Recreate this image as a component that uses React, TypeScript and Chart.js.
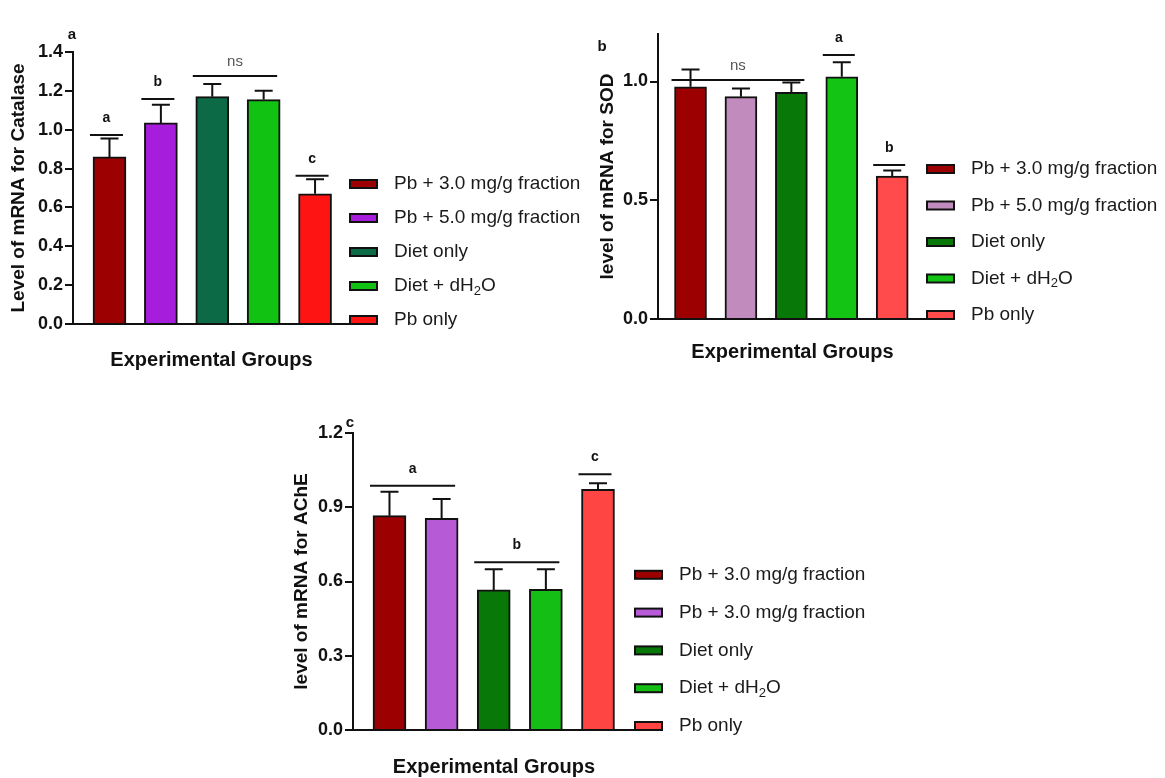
import React, { useEffect, useRef } from 'react';
import { Chart, registerables } from 'chart.js';
Chart.register(...registerables);

const FONT = "'Liberation Sans', Arial, Helvetica, sans-serif";

// ---------- data ----------
const groupsCatalase = ['Pb + 3.0 mg/g fraction', 'Pb + 5.0 mg/g fraction', 'Diet only', 'Diet + dH₂O', 'Pb only'];
const groupsSOD = ['Pb + 3.0 mg/g fraction', 'Pb + 5.0 mg/g fraction', 'Diet only', 'Diet + dH₂O', 'Pb only'];
const groupsAChE = ['Pb + 3.0 mg/g fraction', 'Pb + 3.0 mg/g fraction', 'Diet only', 'Diet + dH₂O', 'Pb only'];

const colorsCatalase = ['#9c0000', '#a61ddc', '#0c6a46', '#12c212', '#ff1414'];
const colorsSOD = ['#9c0000', '#c28bbd', '#087808', '#14c414', '#ff4b4b'];
const colorsAChE = ['#9c0000', '#b65ad6', '#087808', '#14be14', '#ff4444'];

const catalaseMean = [0.86, 1.035, 1.17, 1.155, 0.67];
const catalaseUpper = [0.955, 1.128, 1.235, 1.2, 0.745];
const sodMean = [0.978, 0.936, 0.954, 1.02, 0.602];
const sodUpper = [1.051, 0.971, 0.996, 1.081, 0.625];
const acheMean = [0.866, 0.855, 0.566, 0.568, 0.972];
const acheUpper = [0.963, 0.933, 0.65, 0.649, 0.997];

const catalaseSig = [
  { from: 0, to: 0, y: 0.973, label: 'a' },
  { from: 1, to: 1, y: 1.158, label: 'b' },
  { from: 2, to: 3, y: 1.276, label: 'ns' },
  { from: 4, to: 4, y: 0.763, label: 'c' },
];
const sodSig = [
  { from: 0, to: 2, y: 1.006, label: 'ns' },
  { from: 3, to: 3, y: 1.112, label: 'a' },
  { from: 4, to: 4, y: 0.648, label: 'b' },
];
const acheSig = [
  { from: 0, to: 1, y: 0.987, label: 'a' },
  { from: 2, to: 3, y: 0.678, label: 'b' },
  { from: 4, to: 4, y: 1.033, label: 'c' },
];

const catalaseAxis = { max: 1.4, step: 0.2 };
const sodAxis = { max: 1.2, step: 0.5 };
const acheAxis = { max: 1.2, step: 0.3 };

const xTitle = 'Experimental Groups';

// ---------- panels (layout) ----------
const panels = [
  {
    key: 'a', letter: 'a', yTitle: 'Level of mRNA for Catalase',
    groups: groupsCatalase, colors: colorsCatalase, mean: catalaseMean, upper: catalaseUpper, sig: catalaseSig, axis: catalaseAxis,
    region: { x: 0, y: 0, w: 580, h: 385 }, plot: { l: 73, r: 350, t: 52, b: 324 },
    xMin: -0.71, xMax: 4.68, barW: 33, yTitleX: 19, xTitleY: 360, letterPos: [72, 35], legendSpacing: 34,
  },
  {
    key: 'b', letter: 'b', yTitle: 'level of mRNA for SOD',
    groups: groupsSOD, colors: colorsSOD, mean: sodMean, upper: sodUpper, sig: sodSig, axis: sodAxis,
    region: { x: 580, y: 0, w: 585, h: 385 }, plot: { l: 658, r: 927, t: 34, b: 319 },
    xMin: -0.645, xMax: 4.69, barW: 32, yTitleX: 608, xTitleY: 352, letterPos: [602, 47], legendSpacing: 36.5,
  },
  {
    key: 'c', letter: 'c', yTitle: 'level of mRNA for AChE',
    groups: groupsAChE, colors: colorsAChE, mean: acheMean, upper: acheUpper, sig: acheSig, axis: acheAxis,
    region: { x: 260, y: 395, w: 640, h: 383 }, plot: { l: 353, r: 635, t: 433, b: 730 },
    xMin: -0.70, xMax: 4.71, barW: 33, yTitleX: 302, xTitleY: 767, letterPos: [350, 423], legendSpacing: 37.8,
  },
];

function drawRich(ctx: CanvasRenderingContext2D, text: string, x: number, y: number, size: number) {
  const parts = text.split('₂');
  ctx.font = `${size}px ${FONT}`;
  ctx.fillText(parts[0], x, y);
  if (parts.length > 1) {
    let cx = x + ctx.measureText(parts[0]).width;
    ctx.font = `${Math.round(size * 0.7)}px ${FONT}`;
    ctx.fillText('2', cx, y + 5);
    cx += ctx.measureText('2').width;
    ctx.font = `${size}px ${FONT}`;
    ctx.fillText(parts[1], cx, y);
  }
}

const annotPlugin = {
  id: 'annot',
  afterDatasetsDraw(chart: any, _args: any, opts: any) {
    const { ctx, chartArea } = chart;
    const y = chart.scales.y;
    const meta = chart.getDatasetMeta(0);
    const bw = opts.barW;
    ctx.save();
    ctx.strokeStyle = '#111';
    ctx.lineWidth = 2;
    ctx.lineCap = 'butt';
    // error bars
    opts.upper.forEach((u: number, i: number) => {
      const bar = meta.data[i];
      const yt = y.getPixelForValue(u);
      ctx.beginPath();
      ctx.moveTo(bar.x, bar.y);
      ctx.lineTo(bar.x, yt);
      ctx.moveTo(bar.x - 9, yt);
      ctx.lineTo(bar.x + 9, yt);
      ctx.stroke();
    });
    // significance lines
    opts.sig.forEach((s: any) => {
      const x1 = meta.data[s.from].x - bw / 2 - 3;
      const x2 = meta.data[s.to].x + bw / 2 - 3;
      const yy = y.getPixelForValue(s.y);
      ctx.beginPath();
      ctx.moveTo(x1, yy);
      ctx.lineTo(x2, yy);
      ctx.stroke();
      ctx.textAlign = 'center';
      ctx.textBaseline = 'middle';
      if (s.label === 'ns') {
        ctx.fillStyle = '#555';
        ctx.font = `15px ${FONT}`;
        ctx.fillText(s.label, (x1 + x2) / 2, yy - 14);
      } else {
        ctx.fillStyle = '#111';
        ctx.font = `bold 14px ${FONT}`;
        ctx.fillText(s.label, (x1 + x2) / 2, yy - 17);
      }
    });
    // legend
    const n = opts.groups.length;
    opts.groups.forEach((g: string, i: number) => {
      const ry = chartArea.bottom - 4 - (n - 1 - i) * opts.legendSpacing;
      const mx = chartArea.right;
      ctx.fillStyle = opts.colors[i];
      ctx.fillRect(mx, ry - 4, 27, 8);
      ctx.strokeStyle = '#111';
      ctx.lineWidth = 2;
      ctx.strokeRect(mx, ry - 4, 27, 8);
      ctx.fillStyle = '#1a1a1a';
      ctx.textAlign = 'left';
      ctx.textBaseline = 'middle';
      drawRich(ctx, g, mx + 44, ry, 19);
    });
    // panel letter
    ctx.fillStyle = '#111';
    ctx.font = `bold 15px ${FONT}`;
    ctx.textAlign = 'center';
    ctx.textBaseline = 'middle';
    ctx.fillText(opts.letter, opts.letterPos[0], opts.letterPos[1]);
    ctx.restore();
  },
};

function Panel({ p }: { p: any }) {
  const ref = useRef<HTMLCanvasElement | null>(null);
  useEffect(() => {
    if (!ref.current) return;
    const yLh = 19 * 1.2;
    const xLh = 20 * 1.2;
    const xH = p.xTitleY - p.plot.b + xLh / 2;
    const padBottom = p.region.y + p.region.h - (p.plot.b + xH);
    const chart = new Chart(ref.current, {
      type: 'bar',
      data: {
        datasets: [
          {
            data: p.mean.map((v: number, i: number) => ({ x: i, y: v })),
            backgroundColor: p.colors,
            borderColor: '#111',
            borderWidth: 2,
            barThickness: p.barW,
            borderSkipped: 'start',
          } as any,
        ],
      },
      options: {
        responsive: false,
        animation: false,
        events: [],
        layout: {
          padding: {
            left: 0,
            top: p.plot.t - p.region.y,
            right: p.region.x + p.region.w - p.plot.r,
            bottom: padBottom,
          },
        },
        plugins: {
          legend: { display: false },
          tooltip: { enabled: false },
          annot: {
            upper: p.upper, sig: p.sig, groups: p.groups, colors: p.colors, barW: p.barW,
            legendSpacing: p.legendSpacing, letter: p.letter,
            letterPos: [p.letterPos[0] - p.region.x, p.letterPos[1] - p.region.y],
          },
        } as any,
        scales: {
          x: {
            type: 'linear',
            min: p.xMin,
            max: p.xMax,
            offset: false,
            ticks: { display: false },
            grid: { display: false, offset: false },
            border: { display: true, color: '#111', width: 2 },
            title: {
              display: true, text: xTitle, color: '#111', padding: 0,
              font: { family: FONT, size: 20, weight: 'bold' },
            },
            afterFit: (s: any) => { s.height = xH; },
          },
          y: {
            min: 0,
            max: p.axis.max,
            ticks: {
              stepSize: p.axis.step,
              color: '#111',
              padding: 2,
              font: { family: FONT, size: 18, weight: 'bold' },
              callback: (v: any) => Number(v).toFixed(1),
            },
            afterBuildTicks: (s: any) => {
              s.ticks = s.ticks.filter((t: any) => Math.abs(t.value / p.axis.step - Math.round(t.value / p.axis.step)) < 1e-6);
            },
            grid: { drawOnChartArea: false, drawTicks: true, tickLength: 8, lineWidth: 2, color: '#111' },
            border: { display: true, color: '#111', width: 2 },
            title: {
              display: true, text: p.yTitle, color: '#111',
              padding: { top: p.yTitleX - p.region.x - yLh / 2, bottom: 0 },
              font: { family: FONT, size: 19, weight: 'bold' },
            },
            afterFit: (s: any) => { s.width = p.plot.l - p.region.x; },
          },
        } as any,
      },
      plugins: [annotPlugin],
    });
    return () => chart.destroy();
  }, []);
  return (
    <canvas
      ref={ref}
      width={p.region.w}
      height={p.region.h}
      style={{ position: 'absolute', left: p.region.x, top: p.region.y, width: p.region.w, height: p.region.h }}
    />
  );
}

export default function App() {
  return (
    <div style={{ position: 'fixed', left: 0, top: 0, width: 1165, height: 778, background: '#fff', overflow: 'hidden' }}>
      {panels.map((p) => (
        <Panel key={p.key} p={p} />
      ))}
    </div>
  );
}
